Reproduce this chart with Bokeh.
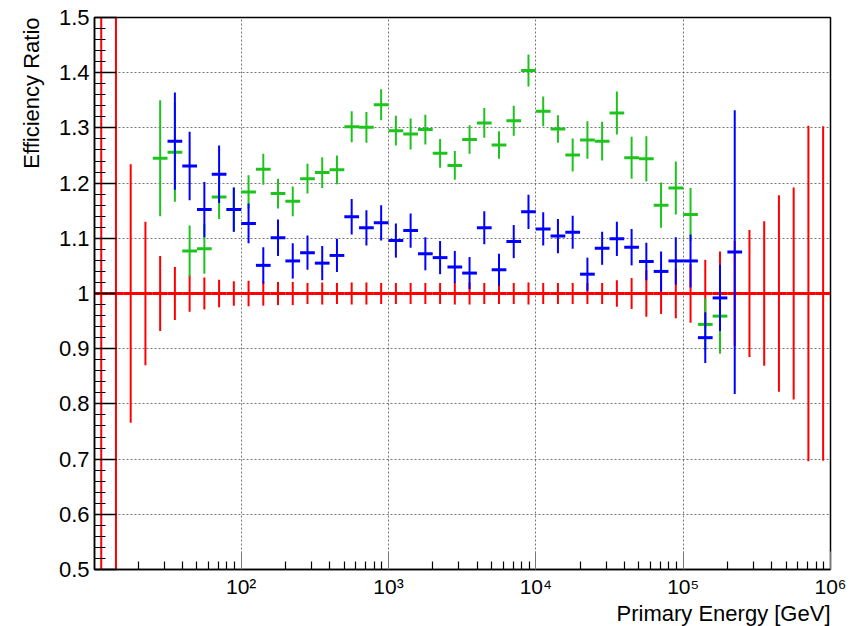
from bokeh.plotting import figure
from bokeh.models import Range1d, FixedTicker, ColumnDataSource, Title
from bokeh.embed import file_html
from bokeh.resources import INLINE

# ---------------- data ----------------
# log10 of the bin centres of Primary Energy [GeV]; bins are 0.1 decade wide
LOG_E_CENTERS = [1.05, 1.15, 1.25, 1.35, 1.45, 1.55, 1.65, 1.75, 1.85, 1.95,
                 2.05, 2.15, 2.25, 2.35, 2.45, 2.55, 2.65, 2.75, 2.85, 2.95,
                 3.05, 3.15, 3.25, 3.35, 3.45, 3.55, 3.65, 3.75, 3.85, 3.95,
                 4.05, 4.15, 4.25, 4.35, 4.45, 4.55, 4.65, 4.75, 4.85, 4.95,
                 5.05, 5.15, 5.25, 5.35, 5.45, 5.55, 5.65, 5.75, 5.85, 5.95]
BIN_HALF_WIDTH = 0.05

RED_VALUES = [1.0, 1.0, 1.0, 1.0, 1.0, 1.0, 1.0, 1.0, 1.0, 1.0,
              1.0, 1.0, 1.0, 1.0, 1.0, 1.0, 1.0, 1.0, 1.0, 1.0,
              1.0, 1.0, 1.0, 1.0, 1.0, 1.0, 1.0, 1.0, 1.0, 1.0,
              1.0, 1.0, 1.0, 1.0, 1.0, 1.0, 1.0, 1.0, 1.0, 1.0,
              1.0, 1.0, 1.0, 1.0, 1.0, 1.0, 1.0, 1.0, 1.0, 1.0]
RED_ERRORS = [0.9, 0.7, 0.234, 0.13, 0.068, 0.048, 0.033, 0.029, 0.025, 0.022,
              0.023, 0.022, 0.021, 0.021, 0.019, 0.02, 0.019, 0.02, 0.02, 0.019,
              0.019, 0.019, 0.019, 0.019, 0.02, 0.02, 0.019, 0.019, 0.019, 0.02,
              0.019, 0.019, 0.019, 0.019, 0.019, 0.024, 0.028, 0.042, 0.037, 0.045,
              0.053, 0.061, 0.076, 0.095, 0.115, 0.131, 0.178, 0.192, 0.304, 0.303]

GREEN_FIRST_BIN = 4
GREEN_VALUES = [1.245, 1.256, 1.077, 1.081, 1.175, 1.152, 1.184, 1.225, 1.181, 1.167,
                1.208, 1.219, 1.224, 1.302, 1.301, 1.342, 1.295, 1.289, 1.297, 1.254,
                1.232, 1.279, 1.309, 1.269, 1.313, 1.404, 1.330, 1.298, 1.251, 1.278,
                1.276, 1.327, 1.246, 1.244, 1.160, 1.191, 1.143, 0.944, 0.959]
GREEN_ERRORS = [0.105, 0.09, 0.046, 0.045, 0.04, 0.04, 0.03, 0.028, 0.027, 0.027,
                0.027, 0.028, 0.026, 0.028, 0.028, 0.028, 0.027, 0.028, 0.027, 0.026,
                0.026, 0.026, 0.027, 0.025, 0.027, 0.029, 0.027, 0.025, 0.03, 0.034,
                0.035, 0.039, 0.038, 0.041, 0.041, 0.048, 0.048, 0.047, 0.068]

BLUE_FIRST_BIN = 5
BLUE_VALUES = [1.276, 1.231, 1.152, 1.216, 1.152, 1.127, 1.051, 1.101, 1.059, 1.074,
               1.055, 1.069, 1.139, 1.119, 1.128, 1.096, 1.114, 1.072, 1.065, 1.048,
               1.037, 1.119, 1.043, 1.094, 1.148, 1.117, 1.104, 1.111, 1.035, 1.082,
               1.099, 1.084, 1.058, 1.040, 1.059, 1.059, 0.920, 0.992, 1.075]
BLUE_ERRORS = [0.088, 0.062, 0.05, 0.052, 0.04, 0.036, 0.033, 0.033, 0.032, 0.031,
               0.031, 0.03, 0.032, 0.032, 0.032, 0.031, 0.031, 0.03, 0.03, 0.029,
               0.029, 0.03, 0.029, 0.03, 0.031, 0.03, 0.031, 0.03, 0.03, 0.03,
               0.031, 0.033, 0.034, 0.036, 0.043, 0.048, 0.046, 0.06, 0.257]

Y_TICKS = [0.5, 0.6, 0.7, 0.8, 0.9, 1.0, 1.1, 1.2, 1.3, 1.4, 1.5]
Y_TICK_LABELS = ["0.5", "0.6", "0.7", "0.8", "0.9", "1", "1.1", "1.2", "1.3", "1.4", "1.5"]
X_TICKS = [1e2, 1e3, 1e4, 1e5, 1e6]
X_TICK_LABELS = ["10\u00b2", "10\u00b3", "10\u2074", "10\u2075", "10\u2076"]

X_TITLE = "Primary Energy [GeV]"
Y_TITLE = "Efficiency Ratio"

FONT = "Liberation Sans"

# ---------------- figure ----------------
p = figure(width=861, height=626, x_axis_type="log",
           x_range=Range1d(10.1, 1e6), y_range=Range1d(0.5, 1.5),
           output_backend="svg", toolbar_location=None,
           min_border_left=94, min_border_right=31,
           min_border_top=17, min_border_bottom=57)
p.background_fill_color = "white"
p.border_fill_color = "white"
p.outline_line_color = "black"
p.outline_line_width = 1.5

# axes
minor_x = [m * 10 ** d for d in range(1, 6) for m in range(2, 10)]
p.xaxis.ticker = FixedTicker(ticks=X_TICKS, minor_ticks=minor_x)
p.xaxis.major_label_overrides = dict(zip(X_TICKS, X_TICK_LABELS))
minor_y = [round(0.5 + 0.02 * k, 2) for k in range(51)]
p.yaxis.ticker = FixedTicker(ticks=Y_TICKS, minor_ticks=minor_y)
p.yaxis.major_label_overrides = dict(zip(Y_TICKS, Y_TICK_LABELS))

for ax in (p.xaxis[0], p.yaxis[0]):
    ax.axis_line_color = "black"
    ax.axis_line_width = 1.5
    ax.major_tick_out = 0
    ax.minor_tick_out = 0
    ax.major_label_text_font = FONT
    ax.major_label_text_color = "black"
    ax.minor_tick_line_color = "black"
    ax.minor_tick_line_width = 1.2

p.xaxis.major_label_text_font_size = "21px"
p.yaxis.major_label_text_font_size = "22px"
p.xaxis.major_tick_in = 18
p.xaxis.minor_tick_in = 8
p.xaxis.major_tick_line_color = "#777777"
p.xaxis.major_tick_line_width = 1
p.xaxis.major_label_standoff = 5
p.yaxis.major_tick_in = 22
p.yaxis.minor_tick_in = 11
p.yaxis.major_tick_line_color = "black"
p.yaxis.major_tick_line_width = 1.5
p.yaxis.major_label_standoff = 5

for g in (p.xgrid[0], p.ygrid[0]):
    g.grid_line_color = "#555555"
    g.grid_line_dash = "2 2"
    g.grid_line_width = 1
    g.grid_line_alpha = 0.8

# axis titles, ROOT style: right-aligned at the end of each axis
p.add_layout(Title(text=X_TITLE, align="right", text_font=FONT,
                   text_font_size="22px", text_font_style="normal",
                   text_color="black", standoff=-4), "below")
p.add_layout(Title(text=Y_TITLE, align="right", text_font=FONT,
                   text_font_size="22px", text_font_style="normal",
                   text_color="black", standoff=23), "left")


def add_series(first_bin, values, errors, color):
    logs = LOG_E_CENTERS[first_bin:first_bin + len(values)]
    src = ColumnDataSource(dict(
        xc=[10 ** l for l in logs],
        xl=[10 ** (l - BIN_HALF_WIDTH) for l in logs],
        xh=[10 ** (l + BIN_HALF_WIDTH) for l in logs],
        y=values,
        ylo=[v - e for v, e in zip(values, errors)],
        yhi=[v + e for v, e in zip(values, errors)],
    ))
    p.segment(x0="xc", x1="xc", y0="ylo", y1="yhi", source=src,
              line_color=color, line_width=2)
    p.segment(x0="xl", x1="xh", y0="y", y1="y", source=src,
              line_color=color, line_width=3)


add_series(0, RED_VALUES, RED_ERRORS, "#ff0000")
add_series(GREEN_FIRST_BIN, GREEN_VALUES, GREEN_ERRORS, "#1ec31e")
add_series(BLUE_FIRST_BIN, BLUE_VALUES, BLUE_ERRORS, "#0000ff")

open("out.html", "w").write(file_html(p, INLINE))
